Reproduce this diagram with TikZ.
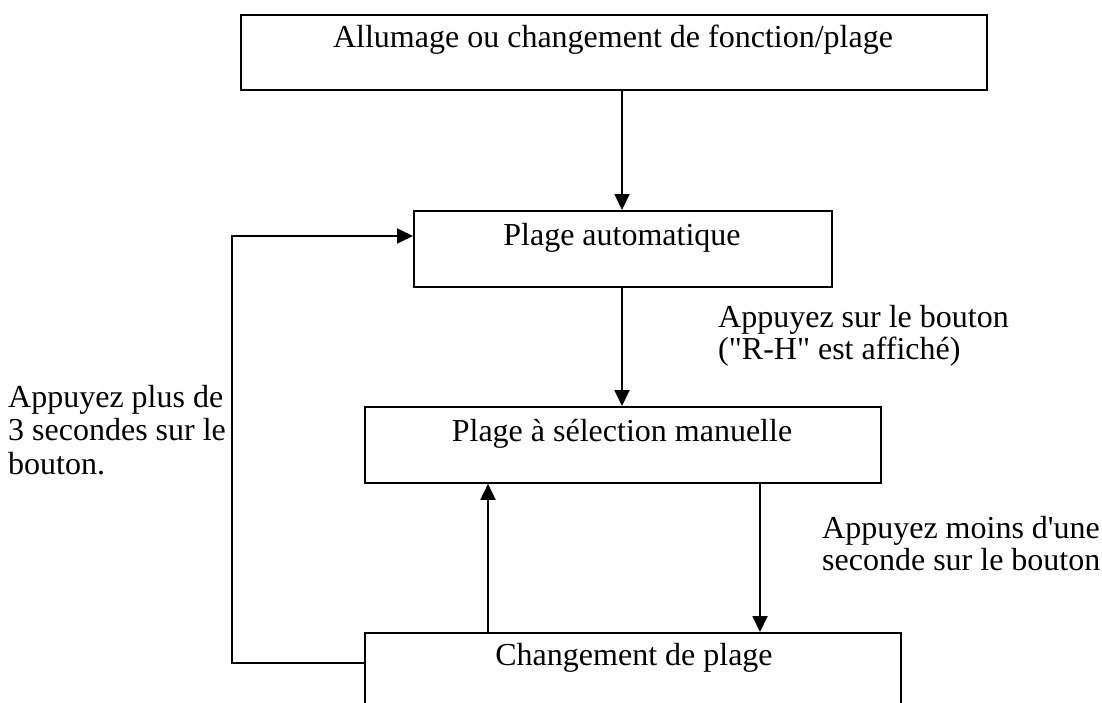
\documentclass[tikz,border=0pt]{standalone}
\usepackage{fontspec}
\newfontfamily\tnr{Liberation Serif}
\usetikzlibrary{arrows.meta}
\begin{document}
\begin{tikzpicture}[x=1pt,y=-1pt,
  box/.style={draw, line width=1.8pt, inner sep=0pt, anchor=north west},
  txt/.style={font=\tnr\fontsize{32}{32}\selectfont, inner sep=0pt},
  lbl/.style={txt, align=left, anchor=base west},
  arr/.style={line width=1.8pt, -{Triangle[length=16pt,width=15pt]}}]
\useasboundingbox (0,0) rectangle (1102,702);
\clip (0,0) rectangle (1102,702);
% boxes
\node[box, minimum width=746pt, minimum height=75pt] (b1) at (240,14) {};
\node[box, minimum width=418pt, minimum height=76pt] (b2) at (413,210) {};
\node[box, minimum width=516pt, minimum height=76pt] (b3) at (364,406) {};
\node[box, minimum width=536pt, minimum height=200pt] (b4) at (364,632) {};
% box texts
\node[txt, anchor=base] (t1) at (613,47) {Allumage ou changement de fonction/plage};
\node[txt, anchor=base] (t2) at (622,245) {Plage automatique};
\node[txt, anchor=base] (t3) at (622,441) {Plage à sélection manuelle};
\node[txt, anchor=base] (t4) at (634,665) {Changement de plage};
% labels
\node[lbl] (l1) at (718,359) {Appuyez sur le bouton\\("R-H" est affiché)};
\node[lbl] (l2) at (822,570) {Appuyez moins d'une\\seconde sur le bouton};
\node[lbl, font=\tnr\fontsize{32}{33.5}\selectfont] (l3) at (8,474) {Appuyez plus de\\3 secondes sur le\\bouton.};
% connectors
\coordinate (xa) at (622,0);
\coordinate (xu) at (488,0);
\coordinate (xd) at (760,0);
\coordinate (lc) at (232,236);
\draw[arr] (b1.south -| xa) -- (b2.north -| xa);
\draw[arr] (b2.south -| xa) -- (b3.north -| xa);
\draw[arr] (b4.north -| xu) -- (b3.south -| xu);
\draw[arr] (b3.south -| xd) -- (b4.north -| xd);
\draw[arr] ([yshift=-31pt]b4.north west) -| (lc) -- (b2.west |- lc);
\end{tikzpicture}
\end{document}
